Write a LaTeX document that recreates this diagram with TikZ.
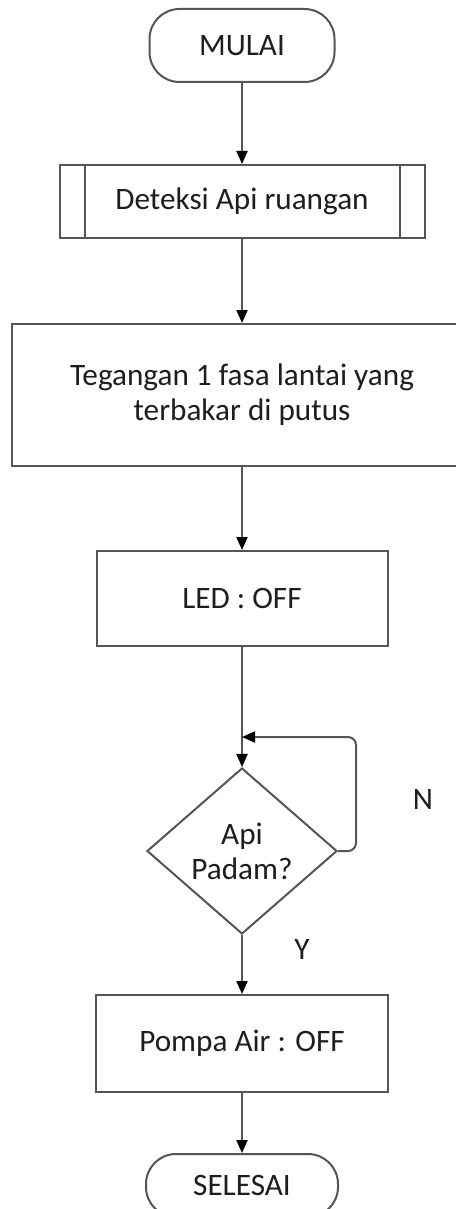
\documentclass[tikz,border=0pt]{standalone}
\usepackage{fontspec}
\setmainfont{Carlito}
\usetikzlibrary{shapes.geometric, arrows.meta, positioning, calc}
\definecolor{linegray}{RGB}{85,85,85}
\definecolor{textgray}{RGB}{30,30,30}

\begin{document}
\begin{tikzpicture}[
    font=\fontsize{15.6}{17.5}\selectfont\color{textgray},
    base/.style={draw=linegray, line width=1pt, align=center, inner sep=2pt},
    term/.style={base, rounded corners=15pt, minimum width=92.5pt, minimum height=36.5pt},
    proc/.style={base, minimum width=#1},
    subproc/.style={base, minimum width=182.5pt, minimum height=36.5pt,
      path picture={
        \draw[linegray, line width=1pt] ([xshift=12.5pt]path picture bounding box.north west) -- ([xshift=12.5pt]path picture bounding box.south west);
        \draw[linegray, line width=1pt] ([xshift=-12.5pt]path picture bounding box.north east) -- ([xshift=-12.5pt]path picture bounding box.south east);}},
    decide/.style={base, diamond, inner sep=0pt, minimum width=95pt, minimum height=83pt},
    arr/.style={-{Triangle[length=6.5pt, width=5.5pt, color=black]}, line width=1pt, linegray},
    lbl/.style={inner sep=1pt},
  ]
  \useasboundingbox[fill=white] (0,0) rectangle (227.5pt,-604.5pt);
  \node[term] (start) at (121pt,-22.75pt) {MULAI};
  \node[subproc, below=40.5pt of start] (detect) {Deteksi Api ruangan};
  \node[proc=230pt, minimum height=71pt, below=42pt of detect] (cut) {Tegangan 1 fasa lantai yang\\terbakar di putus};
  \node[proc=145.5pt, minimum height=47.5pt, below=41.5pt of cut] (led) {LED : OFF};
  \node[decide, below=60pt of led] (fire) {Api\\Padam?};
  \node[proc=146pt, minimum height=48.5pt, below=29.5pt of fire] (pump) {Pompa Air : OFF};
  \node[term, minimum width=96pt, minimum height=31.5pt, below=30pt of pump] (stop) {SELESAI};
  \coordinate (join) at ([yshift=15pt]fire.north);
  \node[lbl] (nlab) at ([xshift=42.5pt,yshift=26pt]fire.east) {N};
  \node[lbl] (ylab) at ([xshift=30pt,yshift=-7pt]fire.south) {Y};
  \foreach \a/\b in {start/detect,detect/cut,cut/led,led/fire,fire/pump,pump/stop}
    \draw[arr] (\a) -- (\b);
  \draw[arr, rounded corners=4pt] (fire.east) -- ++(9pt,0) |- (join);
\end{tikzpicture}
\end{document}
